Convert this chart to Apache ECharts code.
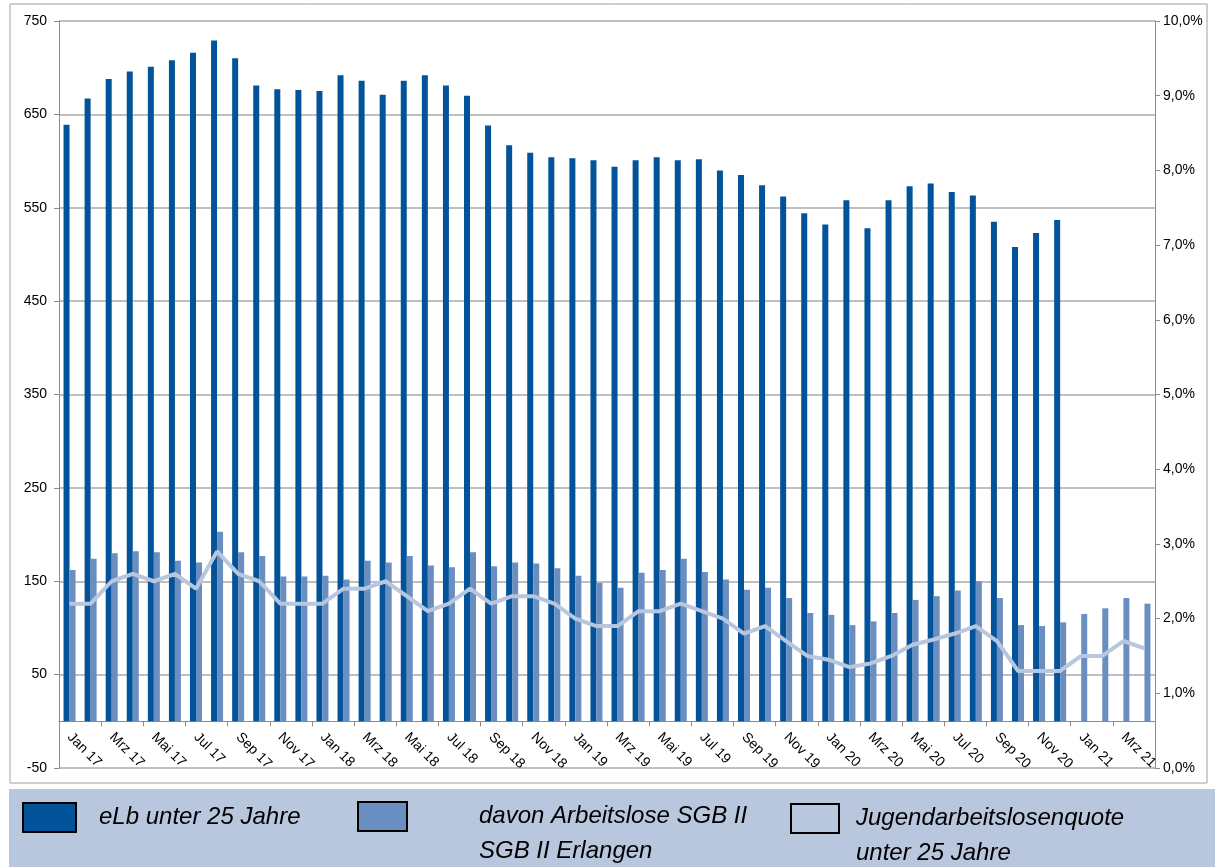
<!DOCTYPE html>
<html>
<head>
<meta charset="utf-8">
<script src="https://cdn.jsdelivr.net/npm/echarts@6/dist/echarts.min.js"></script>
<style>
  html, body { margin: 0; padding: 0; background: #ffffff; }
  #chart { width: 1215px; height: 867px; }
</style>
</head>
<body>
<div id="chart"></div>
<script>
const categories = [
  'Jan 17','Feb 17','Mrz 17','Apr 17','Mai 17','Jun 17','Jul 17','Aug 17','Sep 17','Okt 17','Nov 17','Dez 17',
  'Jan 18','Feb 18','Mrz 18','Apr 18','Mai 18','Jun 18','Jul 18','Aug 18','Sep 18','Okt 18','Nov 18','Dez 18',
  'Jan 19','Feb 19','Mrz 19','Apr 19','Mai 19','Jun 19','Jul 19','Aug 19','Sep 19','Okt 19','Nov 19','Dez 19',
  'Jan 20','Feb 20','Mrz 20','Apr 20','Mai 20','Jun 20','Jul 20','Aug 20','Sep 20','Okt 20','Nov 20','Dez 20',
  'Jan 21','Feb 21','Mrz 21','Apr 21'
];

const eLbUnter25 = [
  639, 667, 688, 696, 701, 708, 716, 729, 710, 681, 677, 676,
  675, 692, 686, 671, 686, 692, 681, 670, 638, 617, 609, 604,
  603, 601, 594, 601, 604, 601, 602, 590, 585, 574, 562, 544,
  532, 558, 528, 558, 573, 576, 567, 563, 535, 508, 523, 537,
  null, null, null, null
];

const arbeitsloseSGB2 = [
  162, 174, 180, 182, 181, 172, 170, 203, 181, 177, 155, 155,
  156, 152, 172, 170, 177, 167, 165, 181, 166, 170, 169, 164,
  156, 148, 143, 159, 162, 174, 160, 152, 141, 143, 132, 116,
  114, 103, 107, 116, 130, 134, 140, 150, 132, 103, 102, 106,
  115, 121, 132, 126
];

const jugendQuote = [
  2.2, 2.2, 2.5, 2.6, 2.5, 2.6, 2.4, 2.9, 2.6, 2.5, 2.2, 2.2,
  2.2, 2.4, 2.4, 2.5, 2.3, 2.1, 2.2, 2.4, 2.2, 2.3, 2.3, 2.2,
  2.0, 1.9, 1.9, 2.1, 2.1, 2.2, 2.1, 2.0, 1.8, 1.9, 1.7, 1.5,
  1.45, 1.35, 1.4, 1.5, 1.65, 1.72, 1.8, 1.9, 1.7, 1.3, 1.3, 1.3,
  1.5, 1.5, 1.7, 1.6
];

const seriesNames = ['eLb unter 25 Jahre', 'davon Arbeitslose SGB II', 'Jugendarbeitslosenquote'];
const legendLabels = [
  'eLb unter 25 Jahre',
  '\u00a0\ndavon Arbeitslose SGB II\nSGB II Erlangen',
  '\u00a0\nJugendarbeitslosenquote\nunter 25 Jahre'
];

const FONT = '"Liberation Sans", Arial, sans-serif';
const DARK = '#03539a';
const MID = '#6a8ec0';
const LIGHT = '#b8c7dd';
const GRID = '#aaaaaa';

const chart = echarts.init(document.getElementById('chart'), null, { renderer: 'canvas' });

function legendFor(i, left, top, padLeft, fill, w) {
  return {
    show: true,
    data: [seriesNames[i]],
    left: left,
    top: top,
    padding: 0,
    orient: 'horizontal',
    itemWidth: w,
    itemHeight: 29,
    selectedMode: false,
    icon: 'rect',
    itemStyle: { color: fill, borderColor: '#000000', borderWidth: 2 },
    formatter: function () { return legendLabels[i]; },
    textStyle: {
      fontFamily: FONT,
      fontStyle: 'italic',
      fontSize: 24,
      color: '#000000',
      lineHeight: 35,
      padding: [0, 0, 0, padLeft]
    }
  };
}

const option = {
  animation: false,
  backgroundColor: '#ffffff',
  graphic: [
    {
      type: 'rect',
      shape: { x: 10, y: 4, width: 1197, height: 779 },
      style: { fill: 'none', stroke: '#a0a0a0', lineWidth: 1 },
      silent: true, z: -10
    },
    {
      type: 'rect',
      shape: { x: 9, y: 789, width: 1206, height: 78 },
      style: { fill: LIGHT },
      silent: true, z: -10
    }
  ],
  legend: [
    legendFor(0, 22, 800, 18, DARK, 53),
    legendFor(1, 357, 764, 67, MID, 49),
    legendFor(2, 790, 766, 12, LIGHT, 48)
  ],
  grid: { left: 59, right: 60, top: 21, bottom: 99, containLabel: false },
  xAxis: {
    type: 'category',
    data: categories,
    boundaryGap: true,
    axisLine: { show: true, onZero: true, onZeroAxisIndex: 0, lineStyle: { color: '#8c8c8c', width: 1 } },
    axisTick: { show: true, interval: 1, length: 5, inside: false, lineStyle: { color: '#8c8c8c' } },
    axisLabel: {
      interval: 1,
      rotate: -45,
      margin: -33,
      fontFamily: FONT,
      fontSize: 14,
      color: '#000000'
    },
    splitLine: { show: false }
  },
  yAxis: [
    {
      type: 'value',
      min: -50,
      max: 750,
      interval: 100,
      position: 'left',
      axisLine: { show: true, lineStyle: { color: '#8c8c8c' } },
      axisTick: { show: true, length: 5, lineStyle: { color: '#8c8c8c' } },
      axisLabel: { fontFamily: FONT, fontSize: 14, color: '#000000', margin: 12 },
      splitLine: { show: true, lineStyle: { color: GRID, width: 1.5 } }
    },
    {
      type: 'value',
      min: 0,
      max: 10,
      interval: 1,
      position: 'right',
      axisLine: { show: true, lineStyle: { color: '#8c8c8c' } },
      axisTick: { show: true, length: 5, lineStyle: { color: '#8c8c8c' } },
      axisLabel: {
        fontFamily: FONT, fontSize: 14, color: '#000000', margin: 8,
        formatter: function (v) { return v.toFixed(1).replace('.', ',') + '%'; }
      },
      splitLine: { show: false }
    }
  ],
  series: [
    {
      name: seriesNames[0],
      type: 'bar',
      yAxisIndex: 0,
      data: eLbUnter25,
      barWidth: 6,
      barGap: '0%',
      itemStyle: { color: DARK },
      z: 2
    },
    {
      name: seriesNames[1],
      type: 'bar',
      yAxisIndex: 0,
      data: arbeitsloseSGB2,
      barWidth: 6,
      barGap: '0%',
      itemStyle: { color: MID },
      z: 2
    },
    {
      name: seriesNames[2],
      type: 'line',
      yAxisIndex: 1,
      data: jugendQuote,
      showSymbol: false,
      symbol: 'none',
      lineStyle: { color: LIGHT, width: 4 },
      itemStyle: { color: LIGHT },
      z: 3
    }
  ]
};

chart.setOption(option);
</script>
</body>
</html>
